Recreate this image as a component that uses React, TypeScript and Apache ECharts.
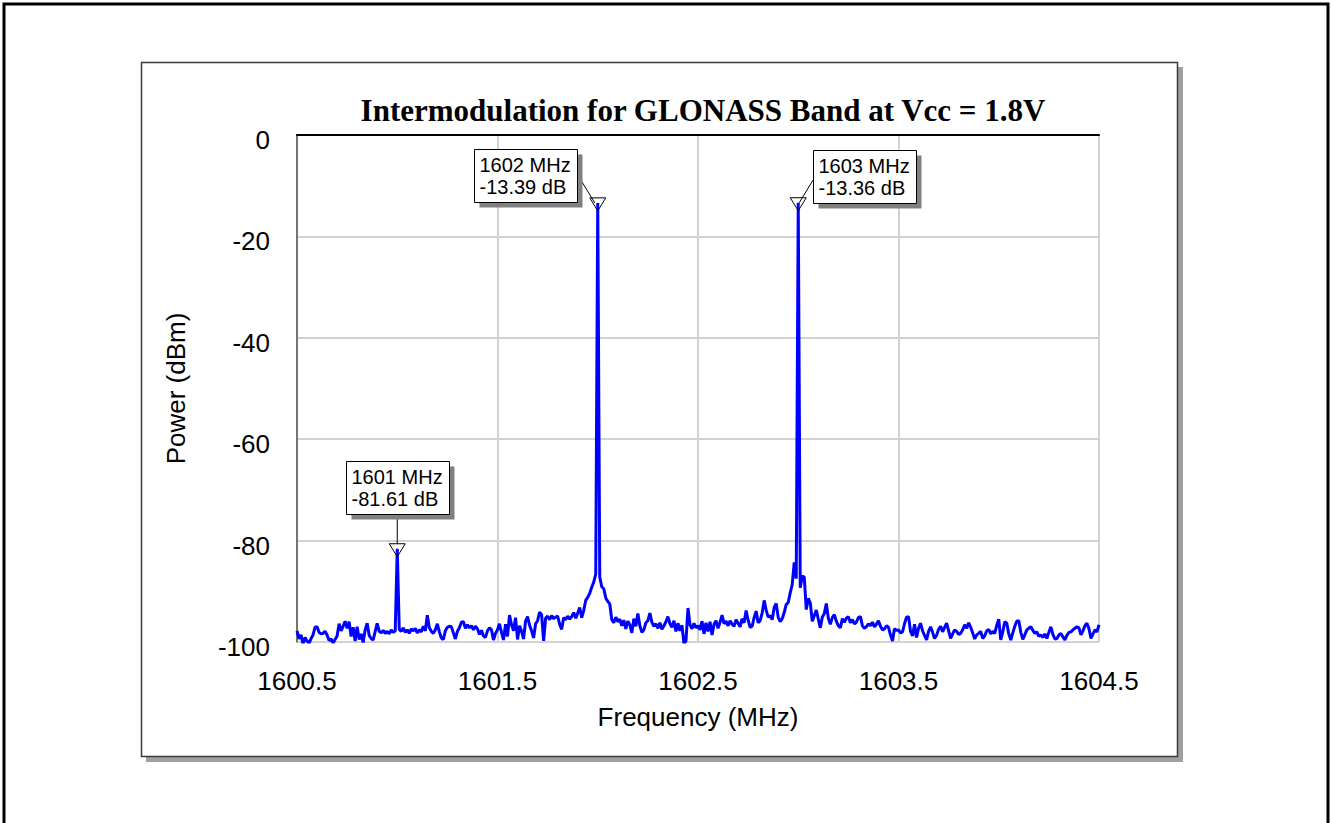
import React, { useEffect, useRef } from "react";
import * as echarts from "echarts";

const chartTitle = "Intermodulation for GLONASS Band at Vcc = 1.8V";
const xAxisName = "Frequency (MHz)";
const yAxisName = "Power (dBm)";

// Frequency axis (MHz)
const freqMin = 1600.5;
const freqMax = 1604.5;
const freqTick = 1;
const freqStart = 1600.5;
const freqStep = 0.01;

// Power axis (dBm)
const powerMin = -100;
const powerMax = 0;
const powerTick = 20;

// Measured power (dBm), one reading every 10 kHz
// 1600.50 - 1601.49 MHz
const powerA = [
  -97.8, -99.4, -98.6, -100.4, -99.1, -99.8, -100.3, -99.3, -98.6, -97.1,
  -97.0, -98.1, -98.4, -98.3, -97.9, -98.6, -99.7, -99.4, -100.2, -99.5,
  -98.8, -96.4, -97.8, -96.9, -95.9, -97.3, -96.0, -98.9, -97.1, -99.8,
  -97.0, -99.5, -98.4, -100.1, -97.6, -96.3, -98.7, -99.3, -99.6, -97.9,
  -96.3, -97.9, -98.2, -97.7, -98.3, -97.9, -98.4, -97.6, -98.1, -97.8,
  -81.61, -97.5, -97.9, -97.2, -98.1, -97.6, -98.3, -97.4, -97.8, -97.3,
  -98.2, -97.6, -98.0, -96.9, -97.8, -94.7, -97.2, -97.9, -98.3, -97.6,
  -96.4, -98.0, -99.2, -99.5, -97.8, -97.1, -96.9, -97.0, -98.2, -99.4,
  -97.9, -97.2, -96.1, -96.0, -97.3, -96.6, -97.2, -96.8, -97.6, -96.9,
  -97.4, -98.5, -97.7, -98.8, -99.1, -97.8, -97.2, -97.6, -99.6, -98.3,
];
// 1601.50 - 1602.49 MHz
const powerB = [
  -97.6, -96.4, -98.1, -99.6, -96.5, -98.9, -94.7, -96.6, -97.8, -95.2,
  -99.5, -96.8, -97.9, -99.4, -95.9, -95.0, -96.7, -97.8, -99.2, -96.4,
  -95.8, -94.1, -94.6, -99.8, -95.3, -94.9, -95.6, -94.8, -95.4, -95.1,
  -94.9, -96.5, -97.5, -95.2, -95.6, -94.9, -95.5, -95.0, -94.2, -95.3,
  -94.3, -93.2, -95.2, -93.8, -91.8, -91.2, -90.4, -89.2, -88.2, -86.6,
  -13.39, -87.2, -89.1, -89.5, -91.3, -92.0, -92.5, -95.6, -96.2, -95.1,
  -96.0, -95.5, -96.8, -95.7, -97.4, -95.9, -96.6, -98.2, -95.4, -96.9,
  -94.4, -96.8, -98.1, -97.6, -96.2, -95.8, -94.3, -96.1, -96.9, -96.4,
  -97.3, -96.2, -97.5, -96.8, -96.0, -95.0, -96.4, -97.1, -95.8, -97.9,
  -96.3, -97.8, -96.7, -100.3, -99.8, -93.3, -96.6, -97.4, -96.3, -97.2,
];
// 1602.50 - 1603.49 MHz
const powerC = [
  -96.8, -97.6, -95.9, -98.4, -96.2, -97.9, -96.0, -98.6, -96.5, -95.8,
  -97.3, -96.1, -94.7, -96.4, -95.9, -96.8, -95.8, -96.5, -96.9, -95.6,
  -96.3, -97.0, -95.4, -96.2, -93.8, -95.7, -97.1, -96.9, -95.2, -93.9,
  -96.2, -95.8, -94.3, -91.8, -93.7, -95.1, -94.8, -95.6, -93.2, -92.4,
  -95.1, -96.0, -95.4, -94.2, -92.6, -92.2, -90.3, -88.7, -84.3, -87.5,
  -13.36, -89.3, -87.0, -87.2, -93.6, -91.4, -92.3, -95.9, -94.8, -93.7,
  -95.5, -97.2, -95.1, -94.4, -92.4, -95.3, -96.5, -95.2, -94.6, -95.9,
  -96.8, -97.2, -95.4, -96.1, -95.3, -95.0, -96.2, -95.6, -96.4, -96.1,
  -95.2, -95.0, -96.8, -97.3, -97.0, -96.4, -96.8, -96.1, -97.0, -96.5,
  -95.8, -96.9, -97.6, -97.4, -96.8, -97.1, -98.6, -99.8, -97.4, -97.7,
];
// 1603.50 - 1604.50 MHz
const powerD = [
  -97.6, -98.2, -98.0, -96.4, -95.1, -95.0, -97.9, -98.8, -96.5, -99.1,
  -97.3, -96.3, -97.8, -98.7, -99.6, -97.9, -97.0, -98.1, -99.3, -98.7,
  -97.5, -96.9, -98.0, -97.1, -96.3, -97.8, -99.3, -98.4, -97.6, -97.9,
  -98.5, -98.3, -97.6, -96.6, -97.3, -96.2, -97.1, -98.2, -99.4, -98.6,
  -98.3, -97.9, -99.3, -98.8, -97.8, -97.5, -98.4, -97.9, -98.3, -96.7,
  -95.5, -99.6, -98.0, -96.0, -96.3, -98.4, -99.6, -98.2, -96.9, -95.9,
  -95.8, -98.1, -99.5, -98.6, -97.6, -97.3, -97.0, -97.7, -98.3, -98.0,
  -98.9, -98.6, -99.1, -98.4, -99.3, -98.1, -97.0, -98.5, -99.4, -99.3,
  -98.6, -98.3, -99.0, -99.6, -98.7, -98.1, -98.0, -97.6, -97.3, -97.0,
  -97.2, -98.6, -97.8, -96.8, -96.3, -97.4, -99.3, -98.4, -97.6, -98.0,
  -96.6,
];

// Marker readouts
const markerFreqs = [1601, 1602, 1603];
const markerLevels = [-81.61, -13.39, -13.36];

// Label box placement relative to each marker (px): box left/top, leader start, leader end
const markerLayout = [
  { dx: -51, dy: -88, lx1: 0, ly1: -34, lx2: 0, ly2: -5 },
  { dx: -124, dy: -54, lx1: -17, ly1: -23, lx2: -3, ly2: 0 },
  { dx: 15, dy: -53, lx1: 15, ly1: -23, lx2: 1, ly2: 0 },
];

const SANS = '"Liberation Sans", Arial, sans-serif';
const SERIF = '"Liberation Serif", "Times New Roman", serif';

const backgroundGraphics = [
  {
    id: "outer",
    type: "rect",
    z: -10,
    shape: { x: 4, y: 4, width: 1324, height: 840 },
    style: { fill: "#fff", stroke: "#000", lineWidth: 3 },
  },
  {
    id: "panelShadow",
    type: "rect",
    z: -9,
    shape: { x: 146, y: 67, width: 1037, height: 695 },
    style: { fill: "#a0a0a0" },
  },
  {
    id: "panel",
    type: "rect",
    z: -8,
    shape: { x: 141.5, y: 62.5, width: 1036, height: 694 },
    style: { fill: "#fff", stroke: "#3a3a3a", lineWidth: 1.5 },
  },
];

export default function App() {
  const ref = useRef<HTMLDivElement>(null);

  useEffect(() => {
    if (!ref.current) return;
    const chart = echarts.init(ref.current, undefined, { renderer: "svg" });

    const power = [...powerA, ...powerB, ...powerC, ...powerD];
    const data = power.map((p, i) => [
      Number((freqStart + i * freqStep).toFixed(2)),
      p,
    ]);

    chart.setOption({
      animation: false,
      backgroundColor: "#fff",
      title: {
        text: chartTitle,
        left: 698,
        top: 90,
        textAlign: "center",
        textStyle: {
          fontFamily: SERIF,
          fontWeight: "bold",
          fontSize: 31,
          color: "#000",
        },
      },
      grid: {
        left: 297,
        top: 135,
        width: 802,
        height: 507,
        show: true,
        backgroundColor: "transparent",
        borderColor: "#555",
        borderWidth: 1,
      },
      xAxis: {
        type: "value",
        min: freqMin,
        max: freqMax,
        interval: freqTick,
        name: xAxisName,
        nameLocation: "middle",
        nameGap: 62,
        nameTextStyle: { fontFamily: SANS, fontSize: 26, color: "#000" },
        axisLabel: {
          fontFamily: SANS,
          fontSize: 26,
          color: "#000",
          margin: 26,
          formatter: (v: number) => v.toFixed(1),
        },
        axisLine: { lineStyle: { color: "#000", width: 2 } },
        axisTick: { show: false },
        splitLine: { lineStyle: { color: "#d2d2d2", width: 2 } },
      },
      yAxis: {
        type: "value",
        min: powerMin,
        max: powerMax,
        interval: powerTick,
        name: yAxisName,
        nameLocation: "middle",
        nameGap: 108,
        nameTextStyle: { fontFamily: SANS, fontSize: 26, color: "#000" },
        axisLabel: {
          fontFamily: SANS,
          fontSize: 26,
          color: "#000",
          margin: 27,
          verticalAlign: "top",
          lineHeight: 10,
        },
        axisLine: { show: true, lineStyle: { color: "#555", width: 1.5 } },
        axisTick: { show: false },
        splitLine: { lineStyle: { color: "#d2d2d2", width: 2 } },
      },
      series: [
        {
          type: "line",
          data,
          showSymbol: false,
          symbol: "none",
          clip: true,
          z: 5,
          lineStyle: { color: "#0000ff", width: 3 },
          itemStyle: { color: "#0000ff" },
        },
      ],
      graphic: backgroundGraphics,
    });

    const markerGraphics: any[] = [];
    markerFreqs.forEach((f, i) => {
      const level = markerLevels[i];
      const [px, py] = chart.convertToPixel({ gridIndex: 0 }, [f, level]) as number[];
      const L = markerLayout[i];
      const bx = Math.round(px + L.dx) + 0.5;
      const by = Math.round(py + L.dy) + 0.5;
      const bw = 103;
      const bh = 53;
      markerGraphics.push(
        {
          id: `lead${i}`,
          type: "line",
          z: 20,
          shape: { x1: px + L.lx1, y1: py + L.ly1, x2: px + L.lx2, y2: py + L.ly2 },
          style: { stroke: "#000", lineWidth: 1 },
        },
        {
          id: `tri${i}`,
          type: "polygon",
          z: 21,
          shape: {
            points: [
              [px - 8, py - 5],
              [px + 8, py - 5],
              [px, py + 8],
            ],
          },
          style: { fill: "none", stroke: "#000", lineWidth: 1 },
        },
        {
          id: `shadow${i}`,
          type: "rect",
          z: 22,
          shape: { x: bx + 5, y: by + 5, width: bw, height: bh },
          style: { fill: "#808080" },
        },
        {
          id: `box${i}`,
          type: "rect",
          z: 23,
          shape: { x: bx, y: by, width: bw, height: bh },
          style: { fill: "#fff", stroke: "#000", lineWidth: 1 },
        },
        {
          id: `label${i}`,
          type: "text",
          z: 24,
          x: bx + 5,
          y: by + 4,
          style: {
            text: `${f} MHz\n${level.toFixed(2)} dB`,
            font: `20px ${SANS}`,
            fill: "#000",
            lineHeight: 22,
            textVerticalAlign: "top",
          },
        }
      );
    });

    chart.setOption({ graphic: [...backgroundGraphics, ...markerGraphics] });

    return () => chart.dispose();
  }, []);

  return (
    <div
      ref={ref}
      style={{ position: "absolute", left: 0, top: 0, width: 1331, height: 823 }}
    />
  );
}
